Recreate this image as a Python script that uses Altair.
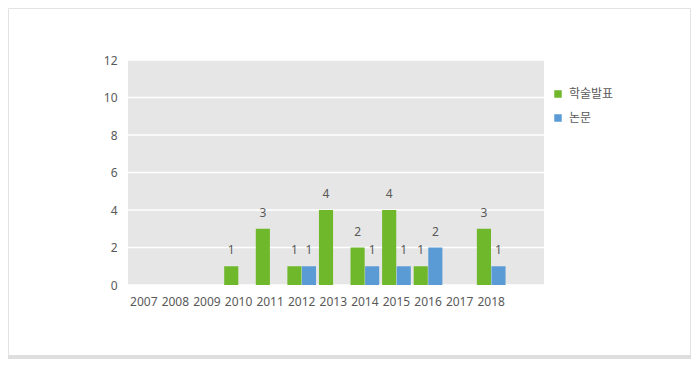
import altair as alt
import pandas as pd

years = ["2007", "2008", "2009", "2010", "2011", "2012", "2013", "2014", "2015", "2016", "2017", "2018"]
series = ["학술발표", "논문"]
presentations = [0, 0, 0, 1, 3, 1, 4, 2, 4, 1, 0, 3]
papers = [0, 0, 0, 0, 0, 1, 0, 1, 1, 2, 0, 1]
colors = ["#6fb82c", "#5b9bd5"]
y_ticks = [0, 2, 4, 6, 8, 10, 12]

rows = []
for y, a, b in zip(years, presentations, papers):
    rows.append({"year": y, "type": series[0], "count": a})
    rows.append({"year": y, "type": series[1], "count": b})
df = pd.DataFrame(rows)
df_lab = df[df["count"] > 0]
grid_df = pd.DataFrame({"count": y_ticks})

FONT = "'Noto Sans', 'Noto Sans CJK KR', sans-serif"
GRAY = "#595959"

xscale = alt.Scale(domain=years, range=[0, 379], paddingInner=0.092, paddingOuter=0.046)
yscale = alt.Scale(domain=[0, 12])
xoff = alt.XOffset("type:N", scale=alt.Scale(domain=series, paddingInner=0.03))

yaxis = alt.Axis(title=None, values=y_ticks, ticks=False, domain=False, grid=False,
                 labelOverlap=False, labelPadding=11, labelColor=GRAY,
                 labelFontSize=12, labelFont=FONT)
xaxis = alt.Axis(title=None, labelAngle=0, ticks=False, domain=False, grid=False,
                 labelPadding=11, labelColor=GRAY, labelFontSize=12, labelFont=FONT)

grid = alt.Chart(grid_df).mark_rule(color="#ffffff", strokeWidth=1.5).encode(
    y=alt.Y("count:Q", scale=yscale, axis=yaxis),
    x=alt.value(0), x2=alt.value(416),
)

bars = alt.Chart(df).transform_filter("datum.count > 0").mark_bar().encode(
    x=alt.X("year:N", scale=xscale, sort=years, axis=xaxis),
    xOffset=xoff,
    y=alt.Y("count:Q", scale=yscale, axis=yaxis),
    color=alt.Color("type:N", scale=alt.Scale(domain=series, range=colors), sort=series,
                    legend=alt.Legend(title=None, orient="none", legendX=424, legendY=28,
                                      symbolType="square", symbolSize=56, symbolStrokeWidth=0,
                                      labelFont=FONT, labelFontSize=12, labelColor=GRAY,
                                      labelOffset=5, rowPadding=12)),
)

labels = alt.Chart(df_lab).mark_text(dy=-16, fontSize=12, font=FONT, color=GRAY).encode(
    x=alt.X("year:N", scale=xscale, sort=years, axis=xaxis),
    xOffset=xoff,
    y=alt.Y("count:Q", scale=yscale, axis=yaxis),
    text=alt.Text("count:Q"),
)

frame_df = pd.DataFrame({"k": [0]})
frame = alt.Chart(frame_df).mark_rect(fillOpacity=0, stroke="#e3e3e3", strokeWidth=1).encode(
    x=alt.value(-119.5), x2=alt.value(562.5), y=alt.value(-51.5), y2=alt.value(296)
)
band = alt.Chart(frame_df).mark_rect(fill="#dedede").encode(
    x=alt.value(-120), x2=alt.value(563), y=alt.value(295), y2=alt.value(299)
)

chart = (
    alt.layer(frame, band, grid, bars, labels)
    .properties(
        width=416, height=225,
        autosize=alt.AutoSizeParams(type="none"),
        padding={"left": 120, "top": 52, "right": 147, "bottom": 80},
    )
    .configure(font=FONT)
    .configure_view(fill="#e6e6e6", stroke=None)
    .configure_axis(labelOverlap=False, grid=False)
)

chart.save("out.html", embed_options={"renderer": "svg", "actions": False})
